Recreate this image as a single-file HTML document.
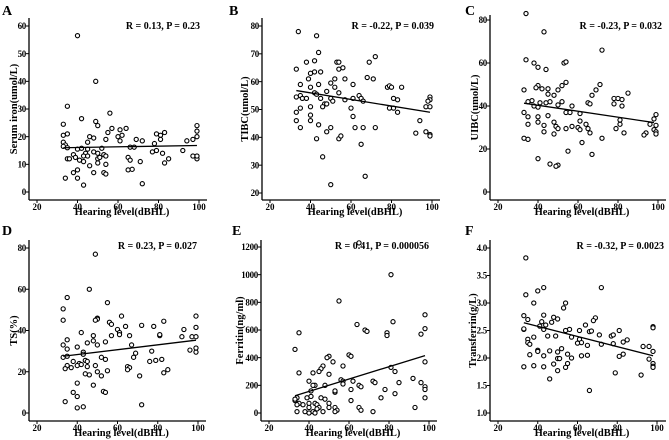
<!DOCTYPE html>
<html><head><meta charset="utf-8"><style>
html,body{margin:0;padding:0;background:#fff}
svg{display:block;font-family:"Liberation Serif",serif;font-weight:bold}
</style></head><body>
<svg id="chart" width="669" height="440" viewBox="0 0 669 440" xmlns="http://www.w3.org/2000/svg"></svg>
<script>
// ---- data (hearing level in dBHL vs marker) ----
const aX=[40,49,35,56,42,49,50,33,64,57,99,61,83,55,33,35,46,48,60,62,79,81,99,99,69,54,45,61,72,33,94,97,81,78,34,35,33,40,42,45,52,66,68,48,50,44,43,45,38,39,35,36,41,50,51,53,54,65,66,77,79,82,92,85,97,99,99,71,83,46,40,50,54,65,67,48,38,53,54,34,40,43,72,43];
const aY=[56.5,40,31,28.5,26.5,25.5,24,24.5,23,23,24,22.5,21.5,21.5,20.5,21,20,19.5,20,20.5,21,20.5,22,20,19,19,18,18.5,18.5,18,18.5,19,19,17.5,17,16,16.5,15.5,15.8,15.5,15.8,16.2,16.2,14.5,14,14,13,13,13.5,12.5,12,12,11.5,12,12.5,13.5,13,12.5,11.5,14.5,15,14,15,12,13,12,13,11,10.5,9.5,8,10.5,10,8,8.2,7,7,7,6.5,5,5,2.5,3,11];
const bX=[34,43,44,72,53,54,69,38,42,56,33,42,45,40,54,68,39,52,57,71,35,44,50,61,40,52,78,79,80,85,48,54,42,43,35,33,36,38,45,50,57,61,64,65,66,81,83,99,99,98,47,48,51,46,35,40,60,79,81,97,99,33,83,40,61,33,40,94,35,44,50,62,66,72,48,92,97,99,99,43,54,55,65,46,67,50];
const bY=[78,76.5,70.5,69,67,67,67,67,67.5,65,64.5,63.5,63.5,63,64.5,61.5,61,61,61,61,59,59,59.5,59,58,58,58,58.5,58,58,56.5,56,56,55.5,55,54.5,54,54,54,54,53.5,54,55,54,53,54,53.5,54.5,53.5,53,52,52,53,51,50.5,51,50.5,50.5,50.5,51,51,49,49,48,47.5,46,46,46,43.5,44.5,43.5,43.5,43.5,43.5,42,41.5,42,41,40.5,39.5,39.5,40.5,37.5,33,26,23];
const cX=[34,43,72,34,38,53,54,40,44,54,71,52,40,39,45,42,33,50,69,85,67,45,48,78,80,82,37,46,35,41,44,52,65,66,78,50,57,82,38,40,33,54,56,61,99,35,40,45,98,61,81,40,35,43,48,57,64,96,99,49,50,54,60,61,65,79,98,43,48,66,81,83,94,99,99,93,33,35,72,62,55,67,40,46,50,49];
const cY=[83,74.5,66,61.5,60,60,60.5,58,57,51,50,49.5,49.5,48.5,48,48,47.5,47.5,47.5,46,45,45.5,45,43.5,43.5,43,42.5,42,42,41.5,41.5,42,41.5,41,41,40.5,40,40,40,39.5,37,37,37,36.5,36,35,35,35.5,34,33,33.5,32.5,31.5,31,32.5,30.5,31.5,31.5,31,30.5,29.5,29.5,30,29,29.5,29.5,29,28,27,27.5,31.5,27.5,27.5,28,27,26.5,25,24.5,25,23,19,17.5,15.5,13,12.5,12];
const dX=[49,46,35,55,33,33,62,99,50,50,49,56,57,83,72,64,78,99,60,61,61,93,42,48,57,66,81,81,92,97,99,35,48,54,45,50,67,33,40,99,96,35,43,43,77,99,69,33,35,52,68,54,44,45,79,76,82,38,41,40,42,49,35,37,34,45,65,66,65,85,50,55,83,44,46,52,71,40,48,38,53,54,40,34,72,43,40];
const dY=[77,60,56,53.5,50.5,45,47,47,46,45.5,45,44,43,44.5,42.5,42,42,41.5,40.5,39,38,40.5,39,37.5,37.5,37.5,37.5,38,37,37,37,35.5,35,34.5,34,33,33,33,32,31.5,30.5,31,29.5,28.5,30,29.5,29,27,27.5,27,27,26,25.5,25,25.5,25,26,25,24,23,23.5,23,23,22,21.5,22.5,22.5,22,21,21,20,20.5,19.5,19,18.5,18,18,14.5,13.5,10,10.5,10,8,5.5,4,3,2.5];
const eX=[65,81,55,98,82,64,98,35,68,69,79,79,96,33,60,61,50,49,52,98,47,57,81,46,45,83,35,42,50,56,92,57,62,40,72,73,85,96,57,43,42,48,65,66,98,98,61,78,41,53,53,83,34,39,46,48,76,98,33,33,41,40,43,35,37,44,50,34,61,40,45,44,50,53,54,65,93,38,42,47,53,34,66,72,43,40];
const eY=[1230,1000,810,710,660,640,610,580,600,590,580,560,570,460,420,410,410,400,370,370,340,340,330,320,300,300,290,290,280,240,250,230,230,230,230,220,220,220,210,200,200,200,200,190,190,170,170,170,160,150,160,140,110,110,110,100,110,110,90,100,120,70,70,70,60,60,70,60,90,40,40,30,40,40,20,40,40,10,10,10,10,10,20,10,0,0];
const fX=[34,43,72,40,34,54,38,53,33,43,69,68,48,50,35,42,47,41,44,43,38,33,33,56,61,64,66,67,54,81,98,98,85,83,71,77,78,35,35,45,49,57,61,62,60,52,36,40,40,46,65,72,78,93,96,98,98,98,98,36,43,50,55,57,62,65,81,83,96,33,38,43,48,50,51,54,55,50,79,92,46,66];
const fY=[3.82,3.28,3.28,3.22,3.15,3.0,3.0,2.91,2.77,2.78,2.73,2.68,2.74,2.71,2.7,2.66,2.65,2.58,2.6,2.52,2.38,2.52,2.53,2.52,2.5,2.6,2.48,2.49,2.5,2.5,2.57,2.55,2.33,2.29,2.42,2.4,2.42,2.34,2.28,2.4,2.4,2.38,2.34,2.28,2.27,2.17,2.25,2.14,2.12,2.13,2.23,2.25,2.26,2.21,2.21,2.12,1.9,1.85,1.83,2.06,2.04,2.11,2.07,2.0,2.04,2.05,2.03,2.07,1.98,1.84,1.86,1.84,1.89,1.99,1.99,1.83,1.9,1.77,1.73,1.69,1.62,1.41];
// fitted regression line endpoints [x0, y0, x1, y1]
const aFit=[33,16,99,16.8];
const bFit=[33,56.8,99,49];
const cFit=[33,41.3,98,32.3];
const dFit=[33,27.5,99,35.3];
const eFit=[33,125,98,415];
const fFit=[33,2.64,98,2.04];
const xTicks=[20,40,60,80,100];
const aTicks=[0,10,20,30,40,50,60];
const bTicks=[20,30,40,50,60,70,80];
const cTicks=[0,20,40,60,80];
const dTicks=[0,20,40,60,80];
const eTicks=[0,200,400,600,800,1000,1200];
const fTicks=[1.0,1.5,2.0,2.5,3.0,3.5,4.0];
const fTickLabels=["1.0","1.5","2.0","2.5","3.0","3.5","4.0"];
const stats=["R = 0.13, P = 0.23","R = -0.22, P = 0.039","R = -0.23, P = 0.032","R = 0.23, P = 0.027","R = 0.41, P = 0.000056","R = -0.32, P = 0.0023"];
const titles=["Serum iron(umol/L)","TIBC(umol/L)","UIBC(umol/L)","TS(%)","Ferritin(ng/ml)","Transferrin(g/L)"];
const letters=["A","B","C","D","E","F"];

const NS="http://www.w3.org/2000/svg";
const svg=document.getElementById('chart');
function mk(tag,attrs,parent){const e=document.createElementNS(NS,tag);for(const k in attrs)e.setAttribute(k,attrs[k]);(parent||svg).appendChild(e);return e;}

// layout frames (pixel geometry)
const frames=[
 {ax:29,x20:37,x100:199,xr:207,yb:200,yt:18,v0:0,p0:192,v1:60,p1:26,row:0,lx:2,tOff:12},
 {ax:262,x20:270,x100:432,xr:440,yb:200,yt:18,v0:20,p0:193,v1:80,p1:26,row:0,lx:229,tOff:14},
 {ax:490,x20:498,x100:658,xr:666,yb:200,yt:15,v0:0,p0:192,v1:80,p1:20,row:0,lx:465,tOff:12},
 {ax:29,x20:37,x100:198,xr:206,yb:421,yt:240,v0:0,p0:413,v1:80,p1:248,row:1,lx:2,tOff:12},
 {ax:261,x20:269,x100:429,xr:437,yb:421,yt:240,v0:0,p0:413,v1:1200,p1:247,row:1,lx:232,tOff:18},
 {ax:490,x20:498,x100:657,xr:666,yb:421,yt:240,v0:1.0,p0:413,v1:4.0,p1:248,row:1,lx:465,tOff:14}
];
const statRight=[200,434,662,197,429,664];
const panels=[[aX,aY,aFit,aTicks],[bX,bY,bFit,bTicks],[cX,cY,cFit,cTicks],[dX,dY,dFit,dTicks],[eX,eY,eFit,eTicks],[fX,fY,fFit,fTicks]];

panels.forEach((p,i)=>{
  const f=frames[i];
  const [xs,ys,fit,yt]=p;
  const sx=v=>f.x20+(v-20)*(f.x100-f.x20)/80;
  const sy=v=>f.p0+(v-f.v0)*(f.p1-f.p0)/(f.v1-f.v0);
  const g=mk('g',{});
  
  
  const baseY=f.row?220:0;
  const L=mk('text',{x:f.lx,y:baseY+15,'font-size':14},g);L.textContent=letters[i];
  
  
  const ya=mk('line',{x1:f.ax,y1:f.yt,x2:f.ax,y2:f.yb,stroke:'#000','stroke-width':1.3},g);
  
  
  const xa=mk('line',{x1:f.ax,y1:f.yb,x2:f.xr,y2:f.yb,stroke:'#000','stroke-width':1.3},g);
  
  
  xTicks.forEach(t=>{
    const x=sx(t);
    mk('line',{x1:x,y1:f.yb,x2:x,y2:f.yb+3,stroke:'#000','stroke-width':1},g);
    const tx=mk('text',{x:x,y:f.yb+10,'font-size':9,'text-anchor':'middle'},g);
    tx.textContent=t;
    
    
  });
  yt.forEach((t,k)=>{
    const y=sy(t);
    mk('line',{x1:f.ax-3,y1:y,x2:f.ax,y2:y,stroke:'#000','stroke-width':1},g);
    const ty=mk('text',{x:f.ax-3,y:y+3.2,'font-size':9,'text-anchor':'end','letter-spacing':'-0.3'},g);
    ty.textContent=(i===5)?fTickLabels[k]:t;
    
    
  });
  const xt=mk('text',{x:(f.ax+f.xr)/2+4,y:f.yb+15,'font-size':10.5,'text-anchor':'middle'},g);
  xt.textContent='Hearing level(dBHL)';
  
  
  const cy=(f.yt+f.yb)/2;
  const bx=f.ax-f.tOff;
  const yti=mk('text',{x:bx,y:cy,'font-size':10.5,'text-anchor':'middle',transform:`rotate(-90 ${bx} ${cy})`},g);
  yti.textContent=titles[i];
  
  
  const st=mk('text',{x:statRight[i],y:baseY+29,'font-size':10,'text-anchor':'end'},g);
  st.textContent=stats[i];
  
  
  xs.forEach((xv,k)=>{
    const c=mk('circle',{cx:sx(xv),cy:sy(ys[k]),r:2.1,fill:'#fff',stroke:'#000','stroke-width':1.1},g);
    
    
  });
  const fl=mk('line',{x1:sx(fit[0]),y1:sy(fit[1]),x2:sx(fit[2]),y2:sy(fit[3]),stroke:'#000','stroke-width':1.3},g);
  
  
});
</script>
</body></html>
